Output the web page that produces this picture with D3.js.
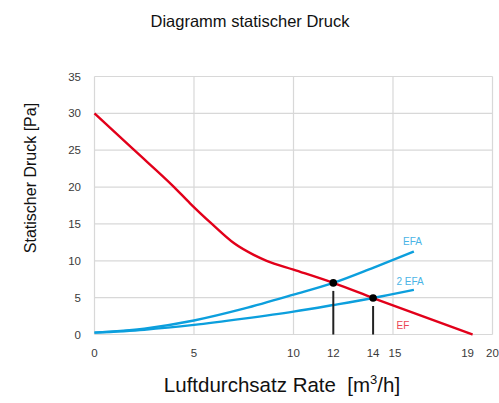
<!DOCTYPE html>
<html><head><meta charset="utf-8">
<script src="https://cdn.jsdelivr.net/npm/d3@7"></script>
<style>body{margin:0;background:#fff}svg{display:block}text{font-family:"Liberation Sans",Arial,sans-serif}</style>
</head><body><svg id="c" width="499" height="403"></svg>
<script>
const efX = [0, 2, 4, 4.8, 5.9, 7, 8, 8.65, 10, 12, 14, 19];
const efY = [30, 25, 20, 17.8, 15, 12.4, 10.8, 10, 8.8, 7, 4.95, 0];
const efaX = [0, 2.5, 5, 7.5, 10, 12, 14, 16.05];
const efaY = [0.25, 0.8, 1.9, 3.5, 5.4, 7, 9.05, 11.25];
const efa2X = [0, 2.5, 5, 7.5, 10, 12, 14, 16.05];
const efa2Y = [0.25, 0.65, 1.3, 2.15, 3.1, 4.0, 4.95, 6.05];
const opPointsX = [12, 14];
const opPointsY = [7, 4.95];
const xTicks = [0, 5, 10, 12, 14, 15, 19, 20];
const xGrid = [0, 5, 10, 15, 20];
const yTicks = [0, 5, 10, 15, 20, 25, 30, 35];

const svg = d3.select("#c");
const x = d3.scaleLinear().domain([0, 20]).range([94.5, 492.5]);
const y = d3.scaleLinear().domain([0, 35]).range([334.5, 76.5]);
const grid = "#d8d8d8";

const g = svg.append("g");
g.selectAll(".hg").data(yTicks).join("line")
  .attr("x1", x(0)).attr("x2", x(20)).attr("y1", d => y(d)).attr("y2", d => y(d))
  .attr("stroke", grid).attr("stroke-width", 1.2);
g.selectAll(".vg").data(xGrid).join("line")
  .attr("y1", y(0)).attr("y2", y(35)).attr("x1", d => x(d)).attr("x2", d => x(d))
  .attr("stroke", grid).attr("stroke-width", 1.2);

// tick labels
g.selectAll(".yl").data(yTicks).join("text")
  .attr("x", 81).attr("y", d => y(d)).attr("dy", "0.35em")
  .attr("text-anchor", "end").attr("font-size", 11.5).attr("fill", "#3a3a3a").text(d => d);
g.selectAll(".xl").data(xTicks).join("text")
  .attr("x", d => x(d) + (d === 19 ? -5 : d === 15 ? 2 : 0)).attr("y", 357)
  .attr("text-anchor", "middle").attr("font-size", 11.5).attr("fill", "#3a3a3a").text(d => d);

const line = d3.line().curve(d3.curveMonotoneX).x(d => x(d[0])).y(d => y(d[1]));
const zip = (a, b) => a.map((v, i) => [v, b[i]]);

svg.append("path").datum(zip(efaX, efaY)).attr("d", line)
  .attr("fill", "none").attr("stroke", "#0c9fdd").attr("stroke-width", 2.4);
svg.append("path").datum(zip(efa2X, efa2Y)).attr("d", line)
  .attr("fill", "none").attr("stroke", "#0c9fdd").attr("stroke-width", 2.4);
svg.append("path").datum(zip(efX, efY)).attr("d", line)
  .attr("fill", "none").attr("stroke", "#e2001a").attr("stroke-width", 2.4);

// operating points
const pts = zip(opPointsX, opPointsY);
svg.selectAll(".vl").data(pts).join("line")
  .attr("x1", d => x(d[0])).attr("x2", d => x(d[0]))
  .attr("y1", d => y(d[1]) + 8).attr("y2", y(0))
  .attr("stroke", "#222").attr("stroke-width", 2);
svg.selectAll(".pt").data(pts).join("circle")
  .attr("cx", d => x(d[0])).attr("cy", d => y(d[1])).attr("r", 3.8).attr("fill", "#000");

// series labels
svg.append("text").attr("x", 403).attr("y", 245).attr("font-size", 10).attr("fill", "#4ab4e6").text("EFA");
svg.append("text").attr("x", 396.5).attr("y", 285).attr("font-size", 10).attr("fill", "#4ab4e6").text("2 EFA");
svg.append("text").attr("x", 396.5).attr("y", 328.5).attr("font-size", 10).attr("fill", "#ea4452").text("EF");

// titles
svg.append("text").attr("x", 250).attr("y", 27).attr("text-anchor", "middle")
  .attr("font-size", 16.5).attr("fill", "#111").text("Diagramm statischer Druck");
const xt = svg.append("text").attr("x", 282).attr("y", 392).attr("text-anchor", "middle")
  .attr("font-size", 20.5).attr("fill", "#111");
xt.append("tspan").text("Luftdurchsatz Rate\u00a0\u00a0[m");
xt.append("tspan").attr("font-size", 13).attr("dy", -8).text("3");
xt.append("tspan").attr("dy", 8).text("/h]");
svg.append("text").attr("transform", "translate(36,178) rotate(-90)").attr("text-anchor", "middle")
  .attr("font-size", 16).attr("fill", "#111").text("Statischer Druck [Pa]");
</script></body></html>
